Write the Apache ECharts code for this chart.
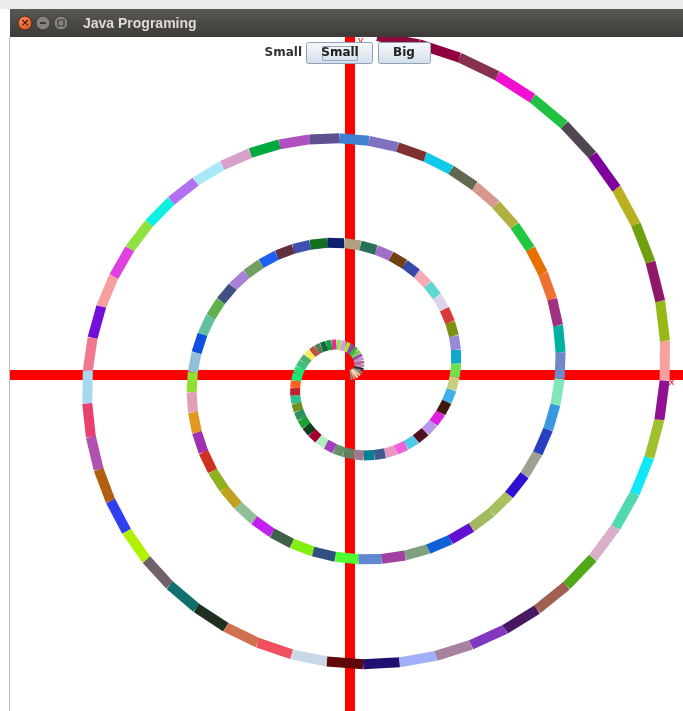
<!DOCTYPE html>
<html>
<head>
<meta charset="utf-8">
<title>Java Programing</title>
<script src="https://cdn.jsdelivr.net/npm/echarts@6/dist/echarts.min.js"></script>
<style>
  html, body { margin: 0; padding: 0; background: #fff; }
  #chart { width: 683px; height: 711px; }
</style>
</head>
<body>
<div id="chart"></div>
<script>
// segment colours of the spiral, centre outwards
var turn0Colors = [
  '#8a8a80', '#d8b070', '#f4ecd8', '#e0c888', '#708898', '#3a2a28', '#c088a8', '#b06890', '#c890c8', '#9050b0',
  '#78c858', '#48b040', '#8848a8', '#a8e040', '#d898e0', '#98e068', '#e0308c', '#10a040', '#106838', '#588058',
  '#c05040', '#f0f060', '#50b070', '#40c080', '#20e070', '#18e878', '#ff6020', '#c02030', '#30c090', '#709020',
  '#309060', '#20a030', '#104020', '#a00030', '#b0f0c0', '#a040c0', '#68906a', '#608060', '#a07890', '#008090',
  '#405890', '#e898c0', '#f060e0', '#50c8e8', '#501020', '#b898e8', '#e020e0', '#401810', '#40b0e8', '#c8d080'
];
var turn1Colors = [
  '#70e050', '#10a8c8', '#9888d8', '#809010', '#d83838', '#dcd4ec', '#60d8d0', '#f4a8b8', '#3848a8', '#704010',
  '#a070c8', '#287058', '#b0a080', '#102070', '#107020', '#4050b0', '#603040', '#2060f0', '#70a060', '#a880d8',
  '#405080', '#60b050', '#60c0a0', '#1050e0', '#90c0d8', '#90e030', '#e0a0b0', '#e09820', '#a030b0', '#d03020',
  '#90b020', '#c0a020', '#90c098', '#c020f0', '#406048', '#80f010', '#305080', '#50ff30', '#6088d0', '#a040a0',
  '#80a080', '#1060d8', '#6010d0', '#a0b860', '#a8c060', '#3010d0', '#a0a090', '#2840c0', '#3898e0', '#80e8b8'
];
var turn2Colors = [
  '#7088c8', '#00b0a0', '#a03080', '#f07030', '#e87000', '#20c840', '#b0b040', '#d89890', '#606850', '#10c8e8',
  '#803030', '#8070c0', '#4080d0', '#605090', '#b050c0', '#00a840', '#d8a0c8', '#a8e8f8', '#b070f0', '#10f0e0',
  '#90e040', '#e040e0', '#f8a0a0', '#7010d8', '#f07890', '#a8d8f0', '#e84070', '#b050b0', '#b06010', '#3040f0',
  '#b0f000', '#706068', '#107070', '#203020', '#d07050', '#f05060', '#c8d8e8', '#600808', '#201070', '#a0b0f8',
  '#a880a0', '#8038c0', '#481860', '#a06050', '#50a818', '#d8b0c8', '#50d8b0', '#10e8f8', '#a0c030', '#901090'
];
var turn3Colors = [
  '#f8a0a0', '#98b818', '#901868', '#70a010', '#b8b020', '#8000a0', '#504550', '#20c040', '#f010d0', '#883050',
  '#900040', '#8c0a3c'
];

var segmentsPerTurn = 50;  // 7.2 degrees for each segment
var pitch = 105;           // radius gained in one full turn
var phase = -1;            // where the segment boundaries sit, degrees

var segColors = turn0Colors.concat(turn1Colors, turn2Colors, turn3Colors);
var step = 360 / segmentsPerTurn;
var segments = segColors.map(function (c, i) {
  var a0 = Math.max(0, i * step + phase);
  var a1 = (i + 1) * step + phase;
  return [a0 / 360 * pitch, a0 % 360, a1 / 360 * pitch, a1 % 360];
});

var chart = echarts.init(document.getElementById('chart'));

var btnFill = new echarts.graphic.LinearGradient(0, 0, 0, 1, [
  { offset: 0, color: '#f6f9fc' },
  { offset: 1, color: '#d3deea' }
]);
var z = 100;

chart.setOption({
  backgroundColor: '#ffffff',
  animation: false,
  // red axes crossing in the middle
  grid: { left: 10, right: 0, top: 37, bottom: 0 },
  xAxis: {
    type: 'value', min: -340, max: 333,
    axisLine: { onZero: true, lineStyle: { color: '#ff0000', width: 10, cap: 'butt' } },
    axisTick: { show: false }, axisLabel: { show: false }, splitLine: { show: false }
  },
  yAxis: {
    type: 'value', min: -336, max: 338,
    axisLine: { onZero: true, lineStyle: { color: '#ff0000', width: 10, cap: 'butt' } },
    axisTick: { show: false }, axisLabel: { show: false }, splitLine: { show: false }
  },
  // polar system for the spiral, 1 unit = 1 px
  polar: { center: [350, 375], radius: [0, 350] },
  angleAxis: { type: 'value', min: 0, max: 360, startAngle: 0, clockwise: false, show: false },
  radiusAxis: { type: 'value', min: 0, max: 350, show: false },
  series: [{
    type: 'custom',
    coordinateSystem: 'polar',
    data: segments,
    z: 5,
    renderItem: function (params, api) {
      var p0 = api.coord([api.value(0), api.value(1)]);
      var p1 = api.coord([api.value(2), api.value(3)]);
      return {
        type: 'line',
        shape: { x1: p0[0], y1: p0[1], x2: p1[0], y2: p1[1] },
        style: { stroke: segColors[params.dataIndex], lineWidth: 10, lineCap: 'butt' }
      };
    }
  }],
  graphic: [
    // window chrome
    { type: 'rect', z: z, shape: { x: 0, y: 0, width: 683, height: 9 }, style: { fill: '#ececec' } },
    { type: 'rect', z: z, shape: { x: 0, y: 9, width: 10, height: 702 }, style: { fill: '#ffffff' } },
    {
      type: 'rect', z: z, shape: { x: 10, y: 9, width: 673, height: 28 },
      style: { fill: new echarts.graphic.LinearGradient(0, 0, 0, 1, [
        { offset: 0, color: '#5a5852' }, { offset: 1, color: '#3c3b37' }
      ]) }
    },
    { type: 'line', z: z, shape: { x1: 9.5, y1: 37, x2: 9.5, y2: 711 }, style: { stroke: '#b8b8b8', lineWidth: 1 } },
    {
      type: 'circle', z: z, shape: { cx: 25, cy: 23, r: 7 },
      style: { fill: new echarts.graphic.RadialGradient(0.4, 0.35, 0.8, [
        { offset: 0, color: '#f98a5a' }, { offset: 1, color: '#de4a16' }
      ]), stroke: '#3a2a20', lineWidth: 1 }
    },
    { type: 'text', z: z + 1, style: { x: 25, y: 23, text: '×', fill: '#4a1c08', font: 'bold 11px "DejaVu Sans"', align: 'center', verticalAlign: 'middle' } },
    { type: 'circle', z: z, shape: { cx: 43, cy: 23, r: 7 }, style: { fill: '#85837b', stroke: '#3a3934', lineWidth: 1 } },
    { type: 'rect', z: z + 1, shape: { x: 40, y: 22, width: 6, height: 2 }, style: { fill: '#3c3b37' } },
    { type: 'circle', z: z, shape: { cx: 61, cy: 23, r: 7 }, style: { fill: '#85837b', stroke: '#3a3934', lineWidth: 1 } },
    { type: 'rect', z: z + 1, shape: { x: 58, y: 20, width: 6, height: 6 }, style: { fill: 'none', stroke: '#3c3b37', lineWidth: 1.2 } },
    { type: 'text', z: z, style: { x: 83, y: 24, text: 'Java Programing', fill: '#dfdbd2', font: 'bold 14px "Liberation Sans"', verticalAlign: 'middle' } },
    // controls
    { type: 'text', z: z, style: { x: 302, y: 53, text: 'Small', fill: '#333333', font: 'bold 12px "DejaVu Sans"', align: 'right', verticalAlign: 'middle' } },
    { type: 'rect', z: z, shape: { x: 306.5, y: 42.5, width: 66, height: 21, r: 2 }, style: { fill: btnFill, stroke: '#8ea3bb', lineWidth: 1 } },
    { type: 'rect', z: z + 1, shape: { x: 322.5, y: 46.5, width: 35, height: 14 }, style: { fill: 'none', stroke: '#9aabbf', lineWidth: 1 } },
    { type: 'text', z: z + 2, style: { x: 340, y: 53, text: 'Small', fill: '#222222', font: 'bold 12px "DejaVu Sans"', align: 'center', verticalAlign: 'middle' } },
    { type: 'rect', z: z, shape: { x: 378.5, y: 42.5, width: 52, height: 21, r: 2 }, style: { fill: btnFill, stroke: '#8ea3bb', lineWidth: 1 } },
    { type: 'text', z: z + 2, style: { x: 404, y: 53, text: 'Big', fill: '#222222', font: 'bold 12px "DejaVu Sans"', align: 'center', verticalAlign: 'middle' } },
    // axis letters
    { type: 'text', z: 10, style: { x: 669, y: 383, text: 'x', fill: '#ff0000', font: '9px "DejaVu Sans"', verticalAlign: 'middle' } },
    { type: 'text', z: 10, style: { x: 358, y: 41, text: 'y', fill: '#ff0000', font: '9px "DejaVu Sans"', verticalAlign: 'middle' } }
  ]
});
</script>
</body>
</html>
